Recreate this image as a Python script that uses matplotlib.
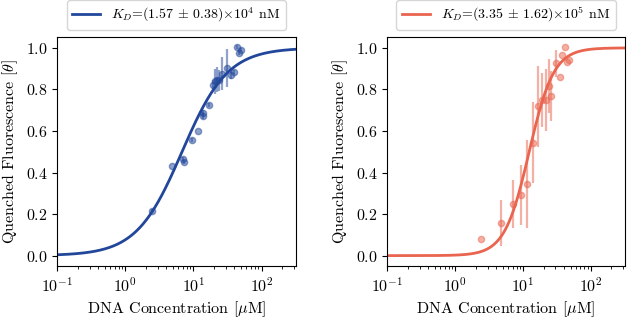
import numpy as np
import matplotlib
matplotlib.use("Agg")
import matplotlib.pyplot as plt

plt.rcParams['font.family'] = 'serif'
plt.rcParams['font.serif'] = ['cmr10']
plt.rcParams['mathtext.fontset'] = 'cm'
plt.rcParams['axes.formatter.use_mathtext'] = True
plt.rcParams['axes.unicode_minus'] = False
plt.rcParams['font.size'] = 11.5

# left panel data (DNA conc in uM, quenched fraction, error)
conc_a = [2.43, 4.79, 6.94, 7.24, 9.4, 11.8, 13.7, 13.9, 17.1, 19.1,
          20.7, 22.4, 23.9, 25.9, 30.7, 35.2, 39.3, 43.1, 47.1, 49.3]
theta_a = [0.215, 0.429, 0.465, 0.450, 0.558, 0.601, 0.687, 0.674, 0.727, 0.823,
           0.839, 0.847, 0.844, 0.876, 0.903, 0.871, 0.882, 1.005, 0.976, 0.988]
err_a = [0.01, 0.0, 0.01, 0.01, 0.01, 0.0, 0.015, 0.015, 0.01, 0.02,
         0.06, 0.06, 0.05, 0.08, 0.09, 0.02, 0.01, 0.01, 0.01, 0.01]

# right panel data
conc_b = [2.39, 4.78, 7.08, 9.25, 11.3, 13.9, 16.6, 19.0, 21.7, 23.7,
          25.6, 30.3, 34.4, 38.0, 42.0, 44.5, 47.5]
theta_b = [0.080, 0.158, 0.249, 0.292, 0.345, 0.544, 0.720, 0.749, 0.749, 0.816,
           0.770, 0.925, 0.858, 0.968, 1.003, 0.930, 0.940]
err_b = [0.0, 0.11, 0.115, 0.145, 0.21, 0.195, 0.195, 0.13, 0.15, 0.13,
         0.12, 0.065, 0.0, 0.0, 0.0, 0.0, 0.0]

# fitted curve parameters (half point in uM, hill slope)
fit_a = (6.8, 1.3)
fit_b = (12.3, 2.4)

labels = [r'$K_D$=(1.57 $\pm$ 0.38)$\times$10$^4$ nM',
          r'$K_D$=(3.35 $\pm$ 1.62)$\times$10$^5$ nM']
colors = ['#22479a', '#e9654f']

fig = plt.figure(figsize=(6.27, 3.18), dpi=100)
ax1 = fig.add_axes([0.0914, 0.1635, 0.380, 0.7186])
ax2 = fig.add_axes([0.6177, 0.1635, 0.379, 0.7186])

xs = np.logspace(-1, 2.5, 400)
for ax, c, t, e, fit, lab, col in [(ax1, conc_a, theta_a, err_a, fit_a, labels[0], colors[0]),
                                   (ax2, conc_b, theta_b, err_b, fit_b, labels[1], colors[1])]:
    k, n = fit
    ax.plot(xs, xs**n / (k**n + xs**n), color=col, lw=2, label=lab)
    ax.errorbar(c, t, yerr=e, fmt='o', color=col, ms=4.5, alpha=0.5,
                elinewidth=1.6, capsize=0)
    ax.set_xscale('log')
    ax.set_xlim(1e-1, 10**2.5)
    ax.set_ylim(-0.05, 1.05)
    ax.set_yticks([0.0, 0.2, 0.4, 0.6, 0.8, 1.0])
    ax.set_xlabel(r'DNA Concentration [$\mu$M]')
    ax.set_ylabel(r'Quenched Fluorescence [$\theta$]')
    ax.legend(loc='lower center', bbox_to_anchor=(0.5, 1.033), frameon=True,
              fontsize=10, borderaxespad=0)

fig.savefig('out.png', dpi=100)
